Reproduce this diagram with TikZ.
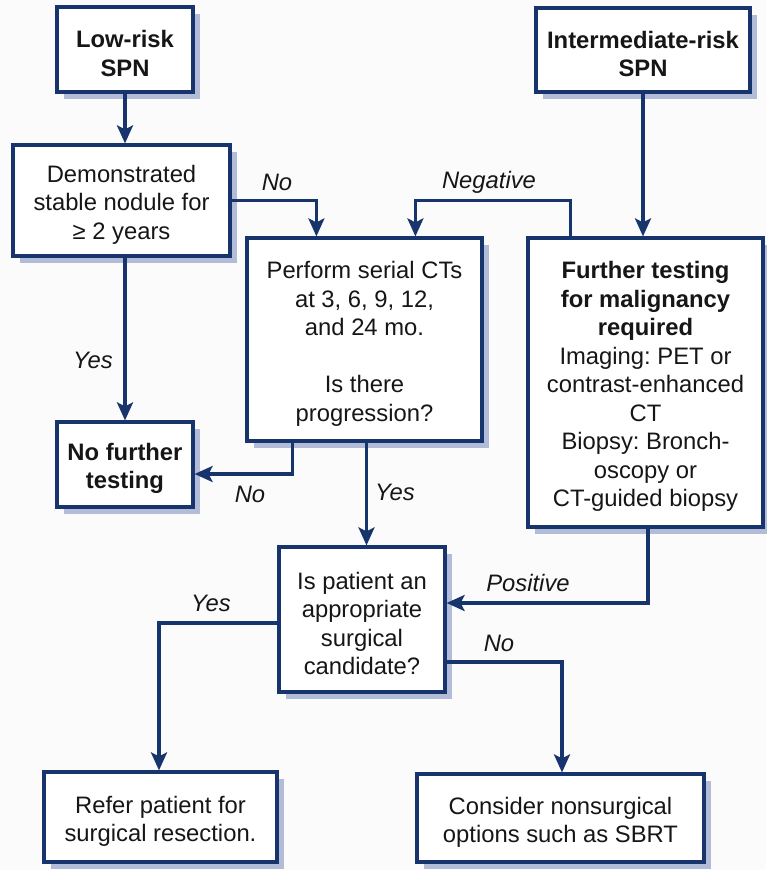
\documentclass[tikz,border=0pt]{standalone}
\usepackage{fontspec}
\setmainfont{Liberation Sans}
\usetikzlibrary{arrows.meta,shadows}

\definecolor{navy}{RGB}{24,52,108}
\definecolor{shadeblue}{RGB}{178,188,216}
\definecolor{ink}{RGB}{22,22,22}
\definecolor{paper}{RGB}{251,251,251}

% strut on the first line of each box, to sit the text a little lower
\newcommand\firstline{\rule{0pt}{25.5pt}}

\tikzset{
  box/.style={draw=navy, line width=3.2pt, fill=white, inner sep=0pt,
    align=center, text=ink, font=\fontsize{23.8}{28.5}\selectfont\frenchspacing,
    drop shadow={shadow xshift=7pt, shadow yshift=-7pt, fill=shadeblue, opacity=1}},
  arr/.style={draw=navy, line width=3.2pt,
    -{Stealth[length=18pt,width=16pt,inset=4pt]}},
  lbl/.style={text=ink, font=\fontsize{23.8}{28.5}\selectfont\itshape, inner sep=0pt}
}

\begin{document}
\begin{tikzpicture}[x=1pt,y=-1pt]
  \fill[paper] (0,0) rectangle (766,870);
  \useasboundingbox (0,0) rectangle (766,870);

  % boxes
  \node[box, minimum width=136pt, minimum height=85pt] (low) at (125,49.5)
    {\firstline\textbf{Low-risk}\\\textbf{SPN}};
  \node[box, minimum width=217pt, minimum height=111pt] (stable) at (121.5,200.5)
    {\firstline Demonstrated\\stable nodule for\\≥ 2 years};
  \node[box, minimum width=235pt, minimum height=203pt] (serial) at (364.5,339.5)
    {\firstline Perform serial CTs\\at 3, 6, 9, 12,\\and 24 mo.\\[28.5pt]Is there\\progression?};
  \node[box, minimum width=214pt, minimum height=84pt] (inter) at (643,50)
    {\firstline\textbf{Intermediate-risk}\\\textbf{SPN}};
  \node[box, minimum width=235pt, minimum height=289pt] (further) at (645.5,382.5)
    {\firstline\textbf{Further testing}\\\textbf{for malignancy}\\\textbf{required}\\Imaging: PET or\\contrast-enhanced\\CT\\Biopsy: Bronch-\\oscopy or\\CT-guided biopsy};
  \node[box, minimum width=136pt, minimum height=85pt] (nofurther) at (125,464.5)
    {\firstline\textbf{No further}\\\textbf{testing}};
  \node[box, minimum width=166pt, minimum height=145pt] (candidate) at (362,619.5)
    {\firstline Is patient an\\appropriate\\surgical\\candidate?};
  \node[box, minimum width=233pt, minimum height=90pt] (refer) at (160.5,817)
    {\firstline Refer patient for\\surgical resection.};
  \node[box, minimum width=287pt, minimum height=88pt] (consider) at (560.5,818)
    {\firstline Consider nonsurgical\\options such as SBRT};

  % connectors
  \draw[arr] (low.south) -- (low.south |- stable.north);
  \draw[arr] (stable.east) -| ([xshift=71pt]serial.north west);
  \draw[arr] ([xshift=44pt]further.north west) -- ++(0,-36)
    -| ([xshift=170pt]serial.north west);
  \draw[arr] (inter.south) -- (inter.south |- further.north);
  \draw[arr] (nofurther.north |- stable.south) -- (nofurther.north);
  \draw[arr] ([xshift=47pt]serial.south west) |- ([yshift=-9.5pt]nofurther.east);
  \draw[arr] ([xshift=2pt]serial.south) -- ([xshift=2pt]serial.south |- candidate.north);
  \draw[arr] ([xshift=2.5pt]further.south) |- ([yshift=16.5pt]candidate.east);
  \draw[arr] ([yshift=-3.5pt]candidate.west) -| ([xshift=-1.5pt]refer.north);
  \draw[arr] ([yshift=-42.5pt]candidate.east) -| ([xshift=1.5pt]consider.north);

  % branch labels
  \node[lbl] (l-no1) at (277,182) {No};
  \node[lbl] (l-neg) at (489,182) {Negative};
  \node[lbl] (l-yes1) at (93,360) {Yes};
  \node[lbl] (l-no2) at (250,494) {No};
  \node[lbl] (l-yes2) at (395,492) {Yes};
  \node[lbl] (l-pos) at (528,583) {Positive};
  \node[lbl] (l-yes3) at (211,603) {Yes};
  \node[lbl] (l-no3) at (499,643) {No};
\end{tikzpicture}
\end{document}
